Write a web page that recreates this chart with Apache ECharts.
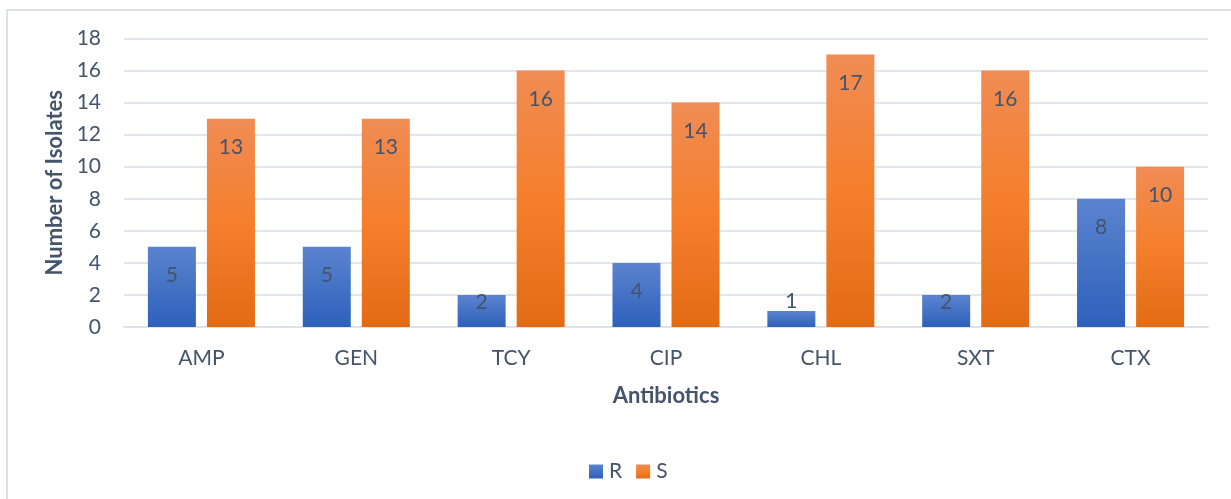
<!DOCTYPE html>
<html>
<head>
<meta charset="utf-8">
<script src="https://cdn.jsdelivr.net/npm/echarts@6/dist/echarts.min.js"></script>
<style>
  html, body { margin: 0; padding: 0; background: #fff; }
  #frame { position: absolute; left: 6px; top: 9px; width: 1225px; height: 490px;
           border-left: 2px solid #DEE2E7; border-top: 2px solid #DEE2E7; }
  #chart { position: absolute; left: 0; top: 0; width: 1231px; height: 499px; }
</style>
</head>
<body>
<div id="frame"></div>
<div id="chart"></div>
<script>
const categories = ['AMP', 'GEN', 'TCY', 'CIP', 'CHL', 'SXT', 'CTX'];
const seriesNames = ['R', 'S'];
const rValues = [5, 5, 2, 4, 1, 2, 8];
const sValues = [13, 13, 16, 14, 17, 16, 10];
const yTicks = { min: 0, max: 18, interval: 2 };

const textColor = '#44546A';
const fontFamily = 'Lato, "Open Sans", sans-serif';
const fs = 21;

function grad(stops) {
  return new echarts.graphic.LinearGradient(0, 0, 0, 1,
    stops.map(s => ({ offset: s[0], color: s[1] })));
}
const blue = grad([[0, '#5B84D0'], [0.5, '#4472C4'], [1, '#2E60BC']]);
const orange = grad([[0, '#F08C54'], [0.5, '#F57F2C'], [1, '#E36B15']]);

function labelFor(v) {
  if (v <= 1) return { position: 'top', distance: -1 };
  if (v <= 2) return { position: 'insideTop', distance: -3 };
  return { position: 'insideTop', distance: 18 };
}
function buildData(values) {
  return values.map(v => ({ value: v, label: labelFor(v) }));
}

const chart = echarts.init(document.getElementById('chart'), null, { renderer: 'canvas' });
chart.setOption({
  animation: false,
  backgroundColor: 'transparent',
  textStyle: { fontFamily: fontFamily },
  grid: { left: 124, right: 23, top: 38.5, bottom: 172, containLabel: false },
  legend: {
    data: seriesNames,
    bottom: 17,
    left: 589,
    padding: 0,
    itemWidth: 14,
    itemHeight: 14,
    itemGap: 14,
    icon: 'rect',
    textStyle: { color: textColor, fontSize: fs, fontFamily: fontFamily, padding: [0, 0, 0, 1] }
  },
  xAxis: {
    type: 'category',
    data: categories,
    name: 'Antibiotics',
    nameLocation: 'middle',
    nameGap: 58,
    nameTextStyle: { color: textColor, fontSize: 22, fontWeight: 'bold', fontFamily: fontFamily },
    axisLine: { show: true, lineStyle: { color: '#DEE2E7', width: 2 } },
    axisTick: { show: false },
    axisLabel: { color: textColor, fontSize: fs, margin: 21, fontFamily: fontFamily }
  },
  yAxis: {
    type: 'value',
    min: yTicks.min,
    max: yTicks.max,
    interval: yTicks.interval,
    name: 'Number of Isolates',
    nameLocation: 'middle',
    nameGap: 58,
    nameTextStyle: { color: textColor, fontSize: 22, fontWeight: 'bold', fontFamily: fontFamily },
    axisLine: { show: false },
    axisTick: { show: false },
    axisLabel: { color: textColor, fontSize: fs, margin: 23, fontFamily: fontFamily },
    splitLine: { lineStyle: { color: '#E2E5E9', width: 2 } }
  },
  series: [
    {
      name: seriesNames[0],
      type: 'bar',
      data: buildData(rValues),
      barWidth: 48,
      barGap: '23%',
      itemStyle: { color: blue },
      label: { show: true, color: textColor, fontSize: fs, fontFamily: fontFamily }
    },
    {
      name: seriesNames[1],
      type: 'bar',
      data: buildData(sValues),
      barWidth: 48,
      barGap: '23%',
      itemStyle: { color: orange },
      label: { show: true, color: textColor, fontSize: fs, fontFamily: fontFamily }
    }
  ]
});
</script>
</body>
</html>
